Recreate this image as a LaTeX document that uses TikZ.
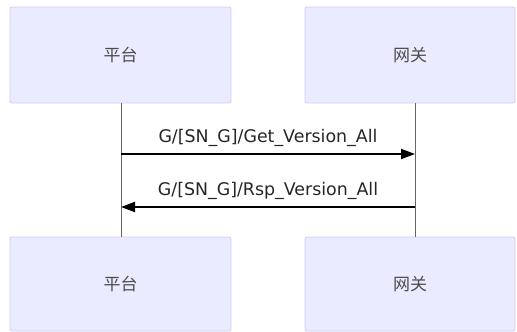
\documentclass[tikz,border=0pt]{standalone}
\usepackage{fontspec}
\setmainfont{DejaVu Sans}
\newfontfamily\cjk{Noto Sans CJK SC}
\usetikzlibrary{arrows.meta}
\begin{document}
\begin{tikzpicture}[x=1pt,y=-1pt,
  actor/.style={draw=black!20!blue!20, fill=blue!8, line width=0.8pt, rounded corners=2pt, inner sep=0pt, font=\cjk\fontsize{17}{17}\selectfont, text=black!70},
  life/.style={draw=black!60, line width=0.6pt},
  msg/.style={draw=black, line width=2pt, -{Triangle[length=14pt,width=10pt]}},
  lbl/.style={font=\fontsize{17.4}{17}\selectfont, text=black!85, inner sep=0pt}]
\useasboundingbox (0,0) rectangle (517,332);
\node[actor, minimum width=221pt, minimum height=96pt] (pt1) at (120.5,55) {平台};
\node[actor, minimum width=210pt, minimum height=96pt] (gw1) at (410,55) {网关};
\node[actor, minimum width=221pt, minimum height=94pt] (pt2) at (120.5,284) {平台};
\node[actor, minimum width=210pt, minimum height=94pt] (gw2) at (410,284) {网关};
\coordinate (la) at (121,154);
\coordinate (ra) at (415,154);
\coordinate (lb) at (121,207);
\coordinate (rb) at (415,207);
\draw[life] (pt1.south -| la) -- (pt2.north -| la);
\draw[life] (gw1.south -| ra) -- (gw2.north -| ra);
\draw[msg] (la) -- node[lbl, above=6pt] {G/[SN\_G]/Get\_Version\_All} (ra);
\draw[msg] (rb) -- node[lbl, above=6pt] {G/[SN\_G]/Rsp\_Version\_All} (lb);
\end{tikzpicture}
\end{document}
